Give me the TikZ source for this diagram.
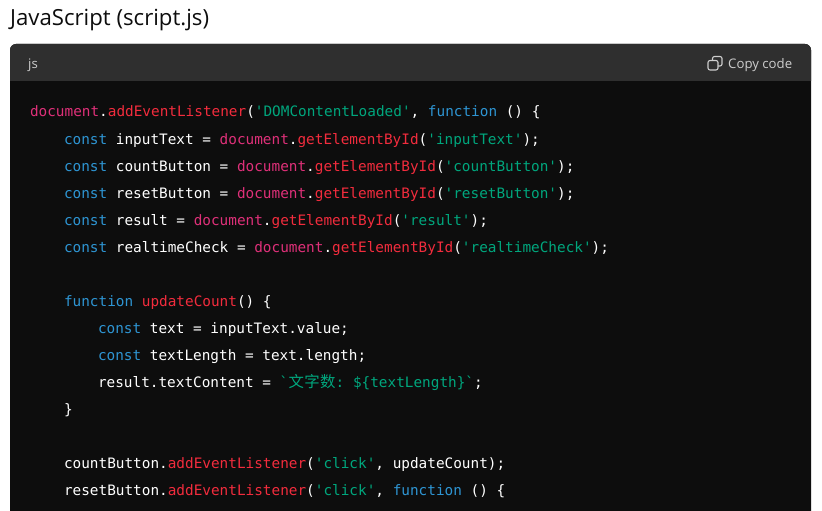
\documentclass[tikz,border=0pt]{standalone}
\usepackage{fontspec}
\setmainfont{Open Sans}
\setmonofont{DejaVu Sans Mono}
\newfontfamily\cjkfont{Noto Sans CJK SC}
\definecolor{codebg}{HTML}{0D0D0D}
\definecolor{headbg}{HTML}{2F2F2F}
\definecolor{kwblue}{HTML}{2E95D3}
\definecolor{fnred}{HTML}{F22C3D}
\definecolor{docpink}{HTML}{DF3079}
\definecolor{strgreen}{HTML}{00A67D}
\definecolor{headtext}{HTML}{0D0D0D}
\definecolor{uitext}{HTML}{CDCDCD}
\newcommand{\Kw}[1]{\textcolor{kwblue}{#1}}
\newcommand{\Fn}[1]{\textcolor{fnred}{#1}}
\newcommand{\Dc}[1]{\textcolor{docpink}{#1}}
\newcommand{\St}[1]{\textcolor{strgreen}{#1}}
\newcommand{\Cj}[1]{\makebox[15.8pt][c]{\cjkfont\fontsize{15.4pt}{15.4pt}\selectfont #1}}
\tikzset{
  codeline/.style={anchor=base west,inner sep=0pt,outer sep=0pt,text=white,
    font=\ttfamily\fontsize{14.37pt}{14.37pt}\selectfont},
  iconbox/.style={draw=uitext,line width=1.1pt,rounded corners=2pt},
}
\begin{document}
\begin{tikzpicture}[x=1pt,y=-1pt]
\useasboundingbox (0,0) rectangle (822,511);
\fill[white] (0,0) rectangle (822,511);
% code panel
\fill[codebg] (10,520) [rounded corners=6pt] -- (10,44) -- (811,44) [sharp corners] -- (811,520) -- cycle;
\fill[headbg] (10,81) [rounded corners=6pt] -- (10,44) -- (811,44) [sharp corners] -- (811,81) -- cycle;
% heading
\node[anchor=base west,inner sep=0pt,text=headtext,font=\fontsize{22.2pt}{22.2pt}\selectfont] (title) at (10,26) {JavaScript (script.js)};
\node[anchor=base west,inner sep=0pt,text=uitext,font=\fontsize{13.2pt}{13.2pt}\selectfont] (lang) at (28,69) {js};
\node[anchor=base west,inner sep=0pt,text=uitext,font=\fontsize{13.2pt}{13.2pt}\selectfont] (copy) at (728,69) {Copy code};
% copy icon
\draw[iconbox] (712.5,56.5) rectangle (722,66);
\fill[headbg,draw=uitext,line width=1.1pt,rounded corners=2pt] (708,60.5) rectangle (718,70);
% code
\node[codeline] (l1) at (30,117) {\Dc{document}.\Fn{addEventListener}(\St{'DOMContentLoaded'}, \Kw{function} () \{};
\node[codeline] (l2) at (64,144) {\Kw{const} inputText = \Dc{document}.\Fn{getElementById}(\St{'inputText'});};
\node[codeline] (l3) at (64,171) {\Kw{const} countButton = \Dc{document}.\Fn{getElementById}(\St{'countButton'});};
\node[codeline] (l4) at (64,198) {\Kw{const} resetButton = \Dc{document}.\Fn{getElementById}(\St{'resetButton'});};
\node[codeline] (l5) at (64,225) {\Kw{const} result = \Dc{document}.\Fn{getElementById}(\St{'result'});};
\node[codeline] (l6) at (64,252) {\Kw{const} realtimeCheck = \Dc{document}.\Fn{getElementById}(\St{'realtimeCheck'});};
\node[codeline] (l8) at (64,306) {\Kw{function} \Fn{updateCount}() \{};
\node[codeline] (l9) at (98,333) {\Kw{const} text = inputText.value;};
\node[codeline] (l10) at (98,360) {\Kw{const} textLength = text.length;};
\node[codeline] (l11) at (98,387) {result.textContent = \St{`\Cj{文}\Cj{字}\Cj{数}: \$\{textLength\}`};};
\node[codeline] (l12) at (64,414) {\}};
\node[codeline] (l14) at (64,468) {countButton.\Fn{addEventListener}(\St{'click'}, updateCount);};
\node[codeline] (l15) at (64,495) {resetButton.\Fn{addEventListener}(\St{'click'}, \Kw{function} () \{};
\end{tikzpicture}
\end{document}
